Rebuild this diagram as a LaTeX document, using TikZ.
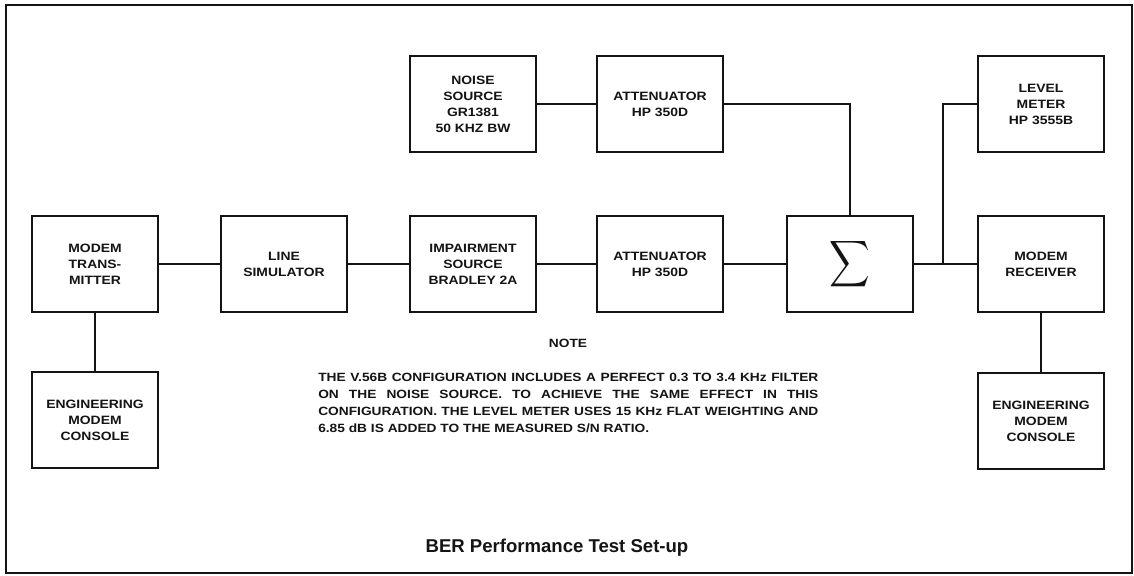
\documentclass[tikz,border=0pt]{standalone}
\usepackage{fontspec}
\setmainfont{Liberation Sans}
\newfontfamily\anchafont{Liberation Sans}[FakeStretch=1.15]
\usepackage{tikz}
\usetikzlibrary{positioning}
\definecolor{trazo}{HTML}{141414}
\tikzset{
  bloque/.style={rectangle,draw=trazo,fill=white,line width=1.6pt,minimum width=3.15cm,minimum height=2.4cm,inner sep=2pt,align=center,text=trazo,font=\anchafont\bfseries\fontsize{8.6}{11.4}\selectfont},
  linea/.style={draw=trazo,line width=1.3pt},
  marco/.style={draw=trazo,line width=1.5pt},
  nota/.style={inner sep=0pt,text=trazo,font=\anchafont\bfseries\fontsize{8.5}{12}\selectfont},
  titulo/.style={inner sep=0pt,text=trazo,font=\bfseries\fontsize{13.2}{15}\selectfont},
}

\begin{document}
\begin{tikzpicture}[x=0.025cm,y=0.025cm]
\useasboundingbox (0,0) rectangle (1134,575);
\draw[marco] (6,2) rectangle (1132,570);
\node[bloque] (tx) at (95,311) {MODEM\\TRANS-\\MITTER};
\node[bloque] (ls) at (284,311) {LINE\\SIMULATOR};
\node[bloque] (imp) at (473,311) {IMPAIRMENT\\SOURCE\\BRADLEY 2A};
\node[bloque] (atenB) at (660,311) {ATTENUATOR\\HP 350D};
\node[bloque] (suma) at (850,311) {\scalebox{2.0}[2.3]{$\displaystyle\sum$}};
\node[bloque] (rx) at (1041,311) {MODEM\\RECEIVER};
\node[bloque] (ruido) at (473,471) {NOISE\\SOURCE\\GR1381\\50 KHZ BW};
\node[bloque] (atenA) at (660,471) {ATTENUATOR\\HP 350D};
\node[bloque] (nivel) at (1041,471) {LEVEL\\METER\\HP 3555B};
\node[bloque] (cons1) at (95,155) {ENGINEERING\\MODEM\\CONSOLE};
\node[bloque] (cons2) at (1041,154) {ENGINEERING\\MODEM\\CONSOLE};
\coordinate (rama) at (943,311);
\draw[linea] (tx) -- (ls);
\draw[linea] (ls) -- (imp);
\draw[linea] (imp) -- (atenB);
\draw[linea] (atenB) -- (suma);
\draw[linea] (suma) -- (rx);
\draw[linea] (ruido) -- (atenA);
\draw[linea] (atenA.east) -| (suma.north);
\draw[linea] (rama) |- (nivel.west);
\draw[linea] (tx) -- (cons1);
\draw[linea] (rx) -- (cons2);
\node[nota] (aviso) at (568,232) {NOTE};
\node[nota,text width=12.5cm,align=justify,anchor=north west] (texto) at (318,202) {THE V.56B CONFIGURATION INCLUDES A PERFECT 0.3 TO 3.4 KHz FILTER\linebreak ON THE NOISE SOURCE. TO ACHIEVE THE SAME EFFECT IN THIS\linebreak CONFIGURATION. THE LEVEL METER USES 15 KHz FLAT WEIGHTING AND\linebreak 6.85 dB IS ADDED TO THE MEASURED S/N RATIO.};
\node[titulo] (rotulo) at (557,27) {BER Performance Test Set-up};
\end{tikzpicture}
\end{document}
